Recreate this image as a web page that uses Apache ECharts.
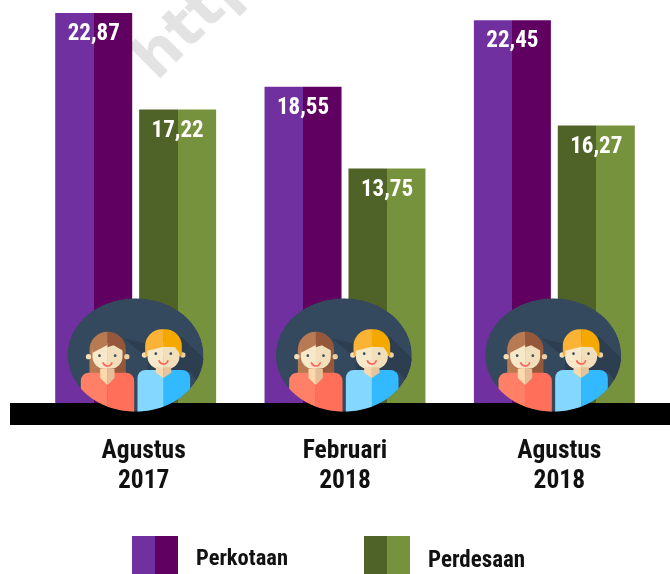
<!DOCTYPE html>
<html><head><meta charset="utf-8">
<style>html,body{margin:0;padding:0;background:#fff}#c{width:670px;height:574px}</style>
<script src="https://cdn.jsdelivr.net/npm/echarts@6/dist/echarts.min.js"></script>
</head><body><div id="c"></div>
<script>
const categories = ['Agustus\n2017', 'Februari\n2018', 'Agustus\n2018'];
const perkotaan = [22.87, 18.55, 22.45];
const perdesaan = [17.22, 13.75, 16.27];
const seriesNames = ['Perkotaan', 'Perdesaan'];

const FONT = '"Liberation Sans Narrow","Roboto Condensed","Liberation Sans",sans-serif';
const split = (a, b) => ({type:'linear',x:0,y:0,x2:1,y2:0,colorStops:[
  {offset:0,color:a},{offset:.5,color:a},{offset:.5,color:b},{offset:1,color:b}]});
const labelPad = [16, 0, 10];

function rr(x,y,w,h,r,fill){return {type:'rect',shape:{x,y,width:w,height:h,r},style:{fill}};}
function cc(cx,cy,r,fill){return {type:'circle',shape:{cx,cy,r},style:{fill}};}
function pg(points,fill){return {type:'polygon',shape:{points},style:{fill}};}
function smile(cx,cy){return {type:'arc',shape:{cx,cy,r:14,startAngle:0.2,endAngle:Math.PI-0.2},style:{stroke:'#ff6558',fill:'none',lineWidth:5}};}

function renderPeople(params, api){
  const p = api.coord([api.value(0), 0]);
  const cxOffset = [0,-1,-1][params.dataIndex];
  return {
    type:'group', x:p[0]-75.5+cxOffset, y:p[1]-113, scaleX:1/3, scaleY:1/3,
    clipPath:{type:'ellipse',shape:{cx:226,cy:195,rx:204,ry:170}},
    children:[
      {type:'ellipse',shape:{cx:226,cy:195,rx:204,ry:170},style:{fill:'#35495e'}},
      pg([[190,145],[262,205],[262,240],[390,245],[440,310],[440,215],[365,140],[300,170]],'#2c3e50'),
      // woman
      rr(88,125,55,125,[54,0,0,0],'#b87a52'),
      rr(142,125,55,125,[0,54,0,0],'#95583a'),
      cc(85,200,8,'#f3dfba'),cc(200,200,8,'#e8cfa4'),
      rr(97,160,46,76,[8,0,0,36],'#f6e8c8'),
      rr(142,160,45,76,[0,8,36,0],'#f1dfbc'),
      pg([[95,158],[142,158],[142,165],[97,188]],'#b87a52'),
      pg([[142,158],[189,158],[189,182],[160,166],[142,172]],'#95583a'),
      rr(62,248,80,125,[24,0,0,0],'#ff8066'),
      rr(141,248,81,125,[0,24,0,0],'#ff6f59'),
      pg([[120,236],[142,236],[142,285],[120,264]],'#ffd9ad'),
      pg([[142,236],[163,236],[163,264],[142,285]],'#e6bf98'),
      cc(118,197,4,'#3b4a5a'),cc(165,197,4,'#3b4a5a'),smile(142,214),
      // boy
      cc(253,195,8,'#f3dfba'),cc(368,195,8,'#e8cfa4'),
      rr(255,118,56,80,[50,0,0,0],'#fbb336'),
      rr(310,118,55,80,[0,50,0,0],'#f5a800'),
      rr(262,160,49,76,[0,0,0,36],'#f6e8c8'),
      rr(310,160,48,76,[0,0,36,0],'#f1dfbc'),
      pg([[258,158],[311,158],[311,170],[262,182]],'#fbb336'),
      pg([[310,158],[362,158],[362,196],[345,172],[310,170]],'#f5a800'),
      rr(232,240,79,130,[24,0,0,0],'#84d7ff'),
      rr(310,240,80,130,[0,24,0,0],'#33b9ff'),
      pg([[287,232],[310,232],[310,264],[287,248]],'#f6d9ae'),
      pg([[310,232],[333,232],[333,248],[310,264]],'#e6c49a'),
      cc(287,191,4,'#3b4a5a'),cc(332,191,4,'#3b4a5a'),smile(310,208)
    ]
  };
}

const chart = echarts.init(document.getElementById('c'), null, {renderer:'canvas'});
const legendBase = {orient:'horizontal',padding:0,itemWidth:46,itemHeight:38,itemGap:0,icon:'rect',
  formatter:n=>`{t|${n}}`};
const legendText = (size, top) => ({rich:{t:{fontFamily:FONT,fontWeight:'bold',fontSize:size,color:'#111',padding:[top,0,0,13]}}});
chart.setOption({
  animation:false,
  grid:{left:31,width:628,top:10.85,height:392.15},
  xAxis:{type:'category',data:categories,
    axisLine:{show:false},axisTick:{show:false},
    axisLabel:{margin:34,interval:0,
      formatter:(v,i)=>v.split('\n').map(s=>`{c${i}|${s}}`).join('\n'),
      rich:{
        c0:{fontFamily:FONT,fontWeight:'bold',fontSize:25.5,lineHeight:30,color:'#111',padding:[0,0,0,labelPad[0]]},
        c1:{fontFamily:FONT,fontWeight:'bold',fontSize:25.5,lineHeight:30,color:'#111',padding:[0,0,0,0]},
        c2:{fontFamily:FONT,fontWeight:'bold',fontSize:25.5,lineHeight:30,color:'#111',padding:[0,0,0,labelPad[2]]}
      }}},
  yAxis:{type:'value',min:0,max:23,show:false},
  legend:[
    Object.assign({},legendBase,{data:[seriesNames[0]],left:132,top:536,textStyle:legendText(22.5,8)}),
    Object.assign({},legendBase,{data:[seriesNames[1]],left:364,top:536,textStyle:legendText(23,12)})
  ],
  graphic:[
    {type:'text',z:-1,x:167,y:92,rotation:Math.PI/4,originX:0,originY:0,
      style:{text:'http',font:'bold 60px "DejaVu Sans",sans-serif',fill:'#e3e3e3',textVerticalAlign:'bottom'}},
    {type:'rect',z:100,shape:{x:10,y:403,width:660,height:22},style:{fill:'#000'}}
  ],
  series:[
    {name:seriesNames[0],type:'bar',data:perkotaan,barWidth:77,barGap:'9%',
      itemStyle:{color:split('#7030a0','#600060')},
      label:{show:true,position:'insideTop',distance:10,color:'#fff',fontFamily:FONT,fontWeight:'bold',fontSize:23,
        formatter:p=>p.value.toFixed(2).replace('.',',')}},
    {name:seriesNames[1],type:'bar',data:perdesaan,barWidth:77,barGap:'9%',
      itemStyle:{color:split('#4f6228','#76923c')},
      label:{show:true,position:'insideTop',distance:10,color:'#fff',fontFamily:FONT,fontWeight:'bold',fontSize:23,
        formatter:p=>p.value.toFixed(2).replace('.',',')}},
    {type:'custom',z:200,silent:true,data:categories.map((c,i)=>[i,0]),renderItem:renderPeople,clip:false,
      encode:{x:0,y:1}}
  ]
});
</script></body></html>
